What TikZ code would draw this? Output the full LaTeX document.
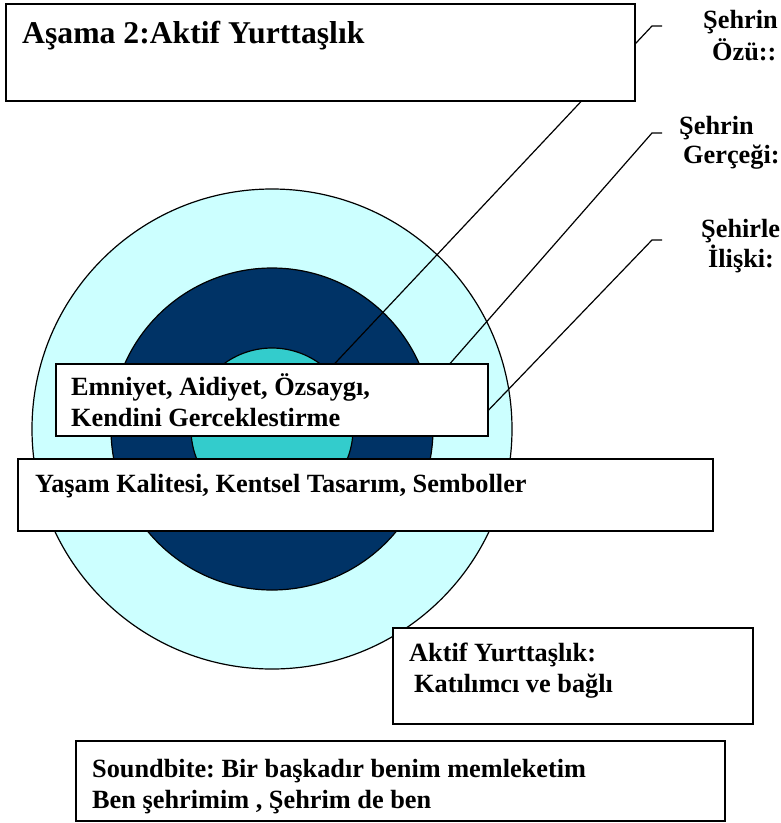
\documentclass[tikz,border=0pt]{standalone}
\usepackage{fontspec}
\setmainfont{Liberation Serif}
\frenchspacing
\definecolor{ringouter}{HTML}{CCFFFF}
\definecolor{ringmid}{HTML}{003366}
\definecolor{ringinner}{HTML}{33CCCC}
\begin{document}
\begin{tikzpicture}[x=1pt,y=-1pt,
  ring/.style={draw=black,line width=1.2pt},
  panel/.style={draw=black,fill=white,line width=1.5pt,anchor=north west,inner sep=0pt},
  leader/.style={draw=black,line width=1.2pt},
  txt/.style={anchor=base west,inner sep=0pt,font=\fontsize{26.3}{31}\selectfont\bfseries},
  ttl/.style={anchor=base west,inner sep=0pt,font=\fontsize{31.7}{38}\selectfont\bfseries}]
\useasboundingbox (0,0) rectangle (781,823);

% concentric rings
\coordinate (c) at (272,429);
\fill[ringouter] (c) circle[radius=240pt];
\draw[ring] (c) circle[radius=240pt];
\fill[ringmid] (c) circle[radius=161pt];
\draw[ring] (c) circle[radius=161pt];
\fill[ringinner] (c) circle[radius=81pt];
\draw[ring] (c) circle[radius=81pt];

% leader lines from the side labels into the rings
\coordinate (a1) at (662,26);  \coordinate (k1) at (652,26);  \coordinate (e1) at (324,375);
\coordinate (a2) at (662,133); \coordinate (k2) at (652,133); \coordinate (e2) at (440,375);
\coordinate (a3) at (662,240); \coordinate (k3) at (652,240); \coordinate (e3) at (480,419);
\draw[leader] (a1) -- (k1) -- (e1);
\draw[leader] (a2) -- (k2) -- (e2);
\draw[leader] (a3) -- (k3) -- (e3);

% boxes
\node[panel,minimum width=629pt,minimum height=97pt] (title) at (5,3) {};
\node[panel,minimum width=432pt,minimum height=72pt] (inner) at (55,363) {};
\node[panel,minimum width=695pt,minimum height=72pt] (middle) at (17,458) {};
\node[panel,minimum width=360pt,minimum height=96pt] (citizen) at (392,627) {};
\node[panel,minimum width=649pt,minimum height=80pt] (sound) at (75,740) {};

% texts
\node[ttl] (t0) at (22,43) {Aşama 2:Aktif Yurttaşlık};
\node[txt] (t1) at (71,395) {Emniyet, Aidiyet, Özsaygı,};
\node[txt] (t2) at (71,426) {Kendini Gerceklestirme};
\node[txt] (t3) at (35,492) {Yaşam Kalitesi, Kentsel Tasarım, Semboller};
\node[txt] (t4) at (409,661) {Aktif Yurttaşlık:};
\node[txt] (t5) at (414,692) {Katılımcı ve bağlı};
\node[txt] (t6) at (92,777) {Soundbite: Bir başkadır benim memleketim};
\node[txt] (t7) at (92,808) {Ben şehrimim , Şehrim de ben};

% side labels
\node[txt] (s1) at (703,28) {Şehrin};
\node[txt] (s2) at (712,60) {Özü::};
\node[txt] (s3) at (679,134) {Şehrin};
\node[txt] (s4) at (683,163) {Gerçeği:};
\node[txt] (s5) at (701,237) {Şehirle};
\node[txt] (s6) at (708,267) {İlişki:};
\end{tikzpicture}
\end{document}
